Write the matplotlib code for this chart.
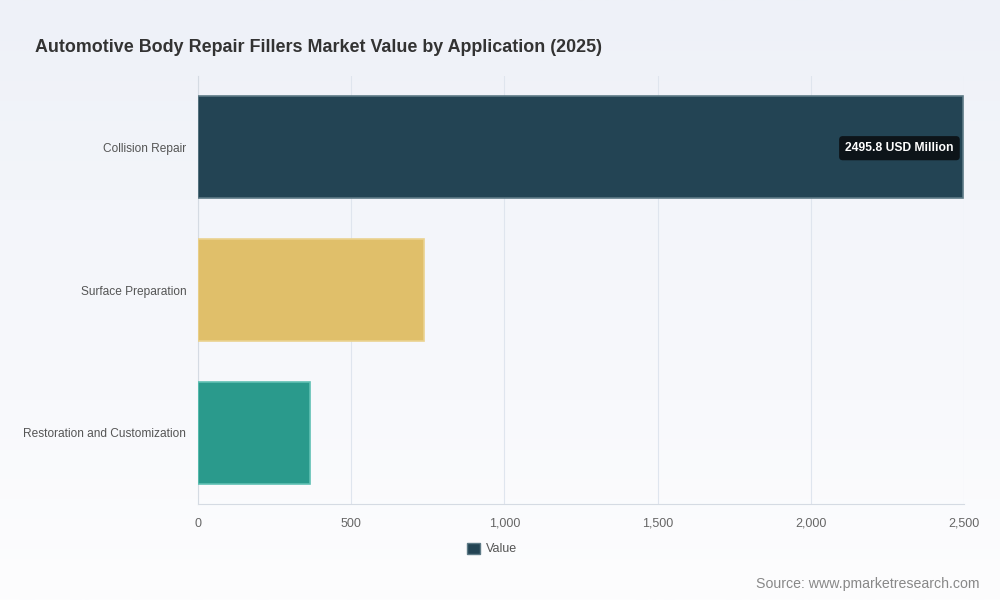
import matplotlib
matplotlib.use('Agg')
import matplotlib.pyplot as plt
import numpy as np
from matplotlib.patches import Patch

plt.rcParams['font.family'] = ['Liberation Sans', 'DejaVu Sans']

#--data
categories = ['Collision Repair', 'Surface Preparation', 'Restoration and Customization']
values = [2495.8, 737.6, 366.5]
colors = ['#234454', '#e0bf6a', '#2a9a8c']
edges = ['#5d7a86', '#ead28f', '#5fc0b3']
xticks = [0, 500, 1000, 1500, 2000, 2500]

fig = plt.figure(figsize=(10, 6), dpi=100)

#--background gradient over the whole figure
bg = fig.add_axes([0, 0, 1, 1], zorder=-10)
grad = np.linspace(0, 1, 256).reshape(-1, 1)
top = np.array([0xee, 0xf1, 0xf8]) / 255.
bot = np.array([0xfd, 0xfd, 0xfe]) / 255.
img = top + (bot - top) * grad[:, :, None]
bg.imshow(img, aspect='auto', extent=[0, 1, 0, 1])
bg.axis('off')

ax = fig.add_axes([0.198, 0.16, 0.766, 0.7133])
ax.patch.set_alpha(0)

y = np.arange(len(categories))
ax.barh(y, values, height=0.715, color=colors, edgecolor=edges, linewidth=1.2, zorder=3)

ax.set_xlim(0, 2500)
ax.set_ylim(len(categories) - 0.5, -0.5)
ax.set_xticks(xticks)
ax.set_xticklabels(['{:,}'.format(v) for v in xticks], fontsize=9, color='#666666')
ax.set_yticks(y)
ax.set_yticklabels(categories, fontsize=8.6, color='#555555')
ax.tick_params(axis='x', length=0, pad=10)
ax.tick_params(axis='y', length=0, pad=8.5)
ax.grid(axis='x', color='#dfe5ee', linewidth=0.8, zorder=0)
for s in ['top', 'right']:
    ax.spines[s].set_visible(False)
ax.spines['left'].set_color('#d5dbe3')
ax.spines['bottom'].set_color('#d5dbe3')

#--tooltip style label on the first bar
ax.annotate('{:.1f} USD Million'.format(values[0]), xy=(values[0], 0), xytext=(-6.5, -0.6),
            textcoords='offset points', ha='right', va='center', fontsize=8.75,
            fontweight='bold', color='white', zorder=5,
            bbox=dict(boxstyle='round,pad=0.5,rounding_size=0.3', fc='#0d1419', ec='none'))

fig.text(0.035, 0.92, 'Automotive Body Repair Fillers Market Value by Application (2025)',
         fontsize=12.9, fontweight='bold', color='#333333', va='center')

leg = fig.legend(handles=[Patch(facecolor=colors[0], edgecolor=edges[0], label='Value')],
                 loc='center', bbox_to_anchor=(0.492, 0.085), frameon=False, fontsize=9,
                 handlelength=1.0, handleheight=1.0, handletextpad=0.5)
for t in leg.get_texts():
    t.set_color('#555555')

fig.text(0.979, 0.027, 'Source: www.pmarketresearch.com', fontsize=10.2, color='#888888',
         ha='right', va='center')

plt.savefig('out.png', dpi=100)
